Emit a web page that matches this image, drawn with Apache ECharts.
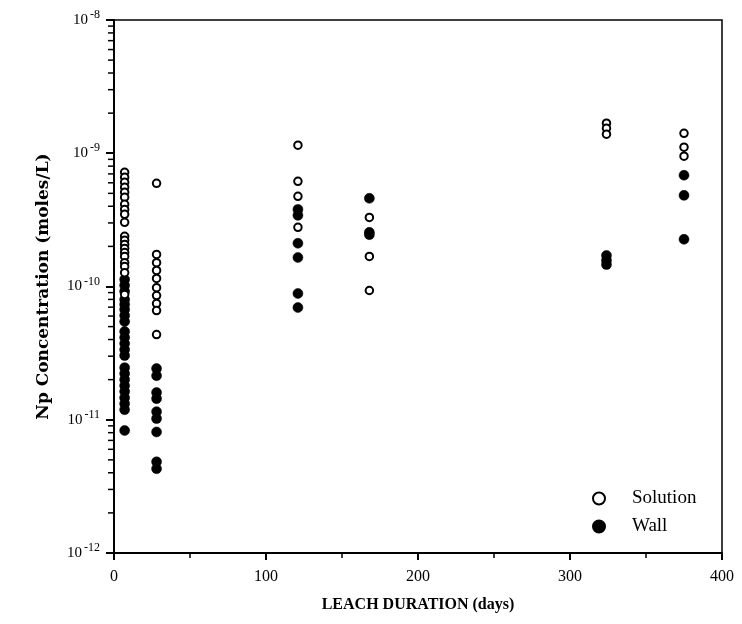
<!DOCTYPE html>
<html>
<head>
<meta charset="utf-8">
<script src="https://cdn.jsdelivr.net/npm/echarts@6/dist/echarts.min.js"></script>
<style>
  html, body { margin: 0; padding: 0; background: #fff; }
  #chart { width: 742px; height: 624px; }
</style>
</head>
<body>
<div id="chart"></div>
<script>
// Leach duration (days) for each sampling time
const days = [7, 28, 121, 168, 324, 375];

// Np concentration in solution (moles/L), one list per sampling time
const solution7 = [7.2e-10, 6.6e-10, 6.05e-10, 5.55e-10, 5.09e-10, 4.67e-10, 4.14e-10, 3.79e-10, 3.48e-10, 3.03e-10,
                   2.38e-10, 2.22e-10, 2.07e-10, 1.93e-10, 1.80e-10, 1.68e-10, 1.51e-10, 1.41e-10, 1.27e-10, 8.7e-11];
const solution28 = [5.95e-10, 1.74e-10, 1.51e-10, 1.32e-10, 1.15e-10, 9.8e-11, 8.55e-11, 7.45e-11, 6.6e-11, 4.36e-11];
const solution121 = [1.15e-9, 6.16e-10, 4.75e-10, 2.78e-10];
const solution168 = [3.30e-10, 1.68e-10, 9.33e-11];
const solution324 = [1.68e-9, 1.54e-9, 1.39e-9];
const solution375 = [1.41e-9, 1.11e-9, 9.5e-10];

// Np concentration on vessel walls (moles/L)
const wall7 = [1.13e-10, 1.02e-10, 9.2e-11, 7.98e-11, 7.33e-11, 6.72e-11, 6.05e-11, 5.46e-11, 4.59e-11, 4.14e-11, 3.73e-11,
               3.36e-11, 3.03e-11, 2.46e-11, 2.22e-11, 2.0e-11, 1.8e-11, 1.63e-11, 1.46e-11, 1.32e-11, 1.19e-11, 8.3e-12];
const wall28 = [2.42e-11, 2.14e-11, 1.60e-11, 1.44e-11, 1.15e-11, 1.02e-11, 8.1e-12, 4.83e-12, 4.29e-12];
const wall121 = [3.79e-10, 3.42e-10, 2.11e-10, 1.65e-10, 8.86e-11, 6.95e-11];
const wall168 = [4.59e-10, 2.55e-10, 2.45e-10];
const wall324 = [1.71e-10, 1.57e-10, 1.46e-10];
const wall375 = [6.84e-10, 4.83e-10, 2.26e-10];

// Log-axis extent and minor tick multipliers
const yMin = 1e-12, yMax = 1e-8;
const minorMultipliers = [2, 3, 4, 5, 6, 7, 8, 9];

const solutionGroups = [solution7, solution28, solution121, solution168, solution324, solution375];
const wallGroups = [wall7, wall28, wall121, wall168, wall324, wall375];

function toPoints(groups) {
  const pts = [];
  groups.forEach((vals, i) => vals.forEach(v => pts.push([days[i], v])));
  return pts;
}

const minorTickValues = [];
for (let e = -12; e < -8; e++) {
  minorMultipliers.forEach(m => minorTickValues.push([0, m * Math.pow(10, e)]));
}

const serif = '"Liberation Serif", "DejaVu Serif", serif';
const wideSerif = '"DejaVu Serif", "Liberation Serif", serif';

const chart = echarts.init(document.getElementById('chart'), null, { renderer: 'canvas' });

chart.setOption({
  animation: false,
  backgroundColor: '#fff',
  grid: {
    left: 114, right: 20, top: 20, bottom: 71,
    show: true, borderColor: '#000', borderWidth: 1.5, backgroundColor: 'transparent'
  },
  legend: {
    data: ['Solution', 'Wall'],
    orient: 'vertical',
    left: 587, top: 484,
    itemWidth: 12, itemHeight: 12, itemGap: 9,
    textStyle: { fontFamily: serif, fontSize: 19, color: '#000', padding: [0, 0, 0, 22] }
  },
  xAxis: {
    type: 'value', min: 0, max: 400, interval: 100,
    name: 'LEACH DURATION (days)', nameLocation: 'middle', nameGap: 44,
    nameTextStyle: { fontFamily: serif, fontSize: 16, fontWeight: 'bold', color: '#000' },
    axisLine: { show: true, lineStyle: { color: '#000', width: 2 } },
    axisTick: { show: true, length: 7, lineStyle: { color: '#000', width: 2 } },
    minorTick: { show: true, splitNumber: 2, length: 5, lineStyle: { color: '#000', width: 1.5 } },
    splitLine: { show: false },
    axisLabel: { fontFamily: serif, fontSize: 16, color: '#000', margin: 16 }
  },
  yAxis: {
    type: 'log', logBase: 10, min: yMin, max: yMax,
    name: 'Np Concentration (moles/L)', nameLocation: 'middle', nameGap: 62,
    nameTextStyle: { fontFamily: wideSerif, fontSize: 17, fontWeight: 'bold', color: '#000' },
    axisLine: { show: true, lineStyle: { color: '#000', width: 2 } },
    axisTick: { show: true, length: 8, lineStyle: { color: '#000', width: 2 } },
    splitLine: { show: false },
    axisLabel: {
      margin: 14,
      formatter: function (v) {
        const e = Math.round(Math.log10(v));
        return '{b|10}{s|' + e + '}';
      },
      rich: {
        b: { fontFamily: serif, fontSize: 15, color: '#000' },
        s: { fontFamily: serif, fontSize: 12, color: '#000', padding: [0, 0, 10, 2] }
      }
    }
  },
  series: [
    {
      // logarithmic minor ticks on the concentration axis
      type: 'custom',
      clip: false,
      silent: true,
      z: 1,
      data: minorTickValues,
      renderItem: function (params, api) {
        const p = api.coord([api.value(0), api.value(1)]);
        return {
          type: 'line',
          shape: { x1: p[0] - 6, y1: p[1], x2: p[0], y2: p[1] },
          style: { stroke: '#000', lineWidth: 1.5 }
        };
      }
    },
    {
      name: 'Wall',
      type: 'scatter',
      z: 3,
      symbol: 'circle',
      symbolSize: 10,
      itemStyle: { color: '#000', borderColor: '#000', borderWidth: 0.5, opacity: 1 },
      data: toPoints(wallGroups)
    },
    {
      name: 'Solution',
      type: 'scatter',
      z: 4,
      symbol: 'circle',
      symbolSize: 7.5,
      itemStyle: { color: '#fff', borderColor: '#000', borderWidth: 2, opacity: 1 },
      data: toPoints(solutionGroups)
    }
  ]
});
</script>
</body>
</html>
